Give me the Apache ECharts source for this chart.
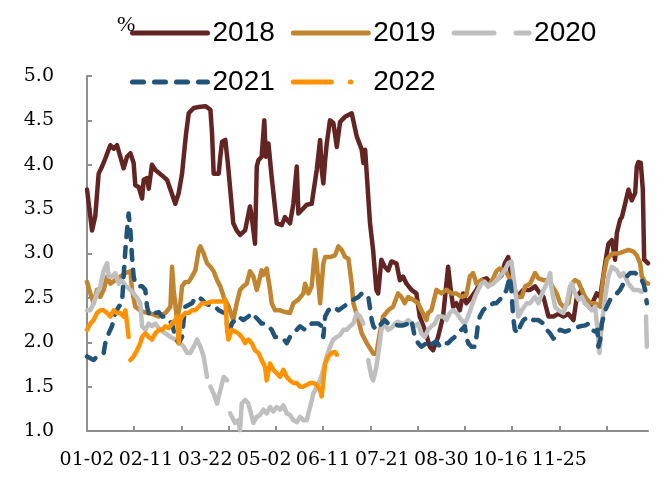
<!DOCTYPE html>
<html><head><meta charset="utf-8">
<script src="https://cdn.jsdelivr.net/npm/echarts@6/dist/echarts.min.js"></script>
<style>html,body{margin:0;padding:0;background:#fff}#c{width:667px;height:481px}</style>
</head><body><div id="c"></div>
<script>
// x = trading-day index from 01-02 (label every 40 days), y = %
const seriesNames = ['2018', '2019', '2020', '2021', '2022'];
const tickLabels = ['01-02', '02-11', '03-22', '05-02', '06-11', '07-21', '08-30', '10-16', '11-25'];
const yTicks = [1.0, 1.5, 2.0, 2.5, 3.0, 3.5, 4.0, 4.5, 5.0];

const d2018 = [[0,3.72],[3.4,3.26],[5.6,3.42],[7.9,3.90],[10.2,3.98],[12.4,4.07],[15.8,4.22],[18.1,4.18],[20.3,4.22],[22.6,4.09],[24.8,3.96],[27.1,4.09],[29.4,4.13],[31.6,4.02],[32.7,3.77],[35.0,3.75],[37.3,3.62],[38.4,3.83],[40.7,3.85],[41.8,3.73],[44.0,4.00],[46.3,3.94],[50.8,3.88],[54.2,3.83],[56.5,3.72],[59.8,3.56],[62.1,3.68],[64.4,3.90],[65.5,4.09],[67.1,4.35],[68.9,4.58],[72.3,4.64],[75.7,4.65],[80.2,4.66],[83.6,4.62],[84.7,4.35],[85.8,3.90],[89.2,3.90],[90.3,4.09],[91.5,4.26],[93.7,4.28],[95.5,4.00],[99.1,3.34],[101.4,3.26],[103.7,3.21],[107.1,3.26],[110.4,3.53],[111.6,3.41],[113.8,3.11],[115.0,3.98],[116.1,4.05],[118.3,4.09],[120.1,4.50],[121.1,4.09],[122.9,4.24],[125.1,3.86],[128.5,3.34],[131.9,3.32],[134.1,3.41],[137.5,3.34],[139.8,3.56],[142.1,3.98],[143.2,3.45],[146.6,3.51],[148.8,3.55],[152.2,3.56],[155.6,3.94],[157.9,4.28],[159.0,3.94],[160.1,3.79],[161.3,4.05],[162.4,4.24],[164.6,4.50],[166.9,4.47],[169.2,4.20],[171.4,4.48],[174.8,4.54],[179.3,4.58],[182.7,4.32],[186.1,4.17],[187.2,4.02],[188.4,4.17],[191.7,3.34],[193.8,3.04],[196.0,2.59],[197.2,2.55],[199.4,2.93],[201.7,2.85],[204.0,2.81],[206.2,2.91],[209.6,2.89],[211.9,2.70],[214.1,2.74],[216.4,2.66],[219.8,2.59],[223.1,2.55],[225.4,2.29],[228.8,2.14],[232.2,1.95],[234.4,1.91],[237.8,2.06],[241.2,2.29],[244.6,2.85],[246.4,2.59],[248.0,2.40],[250.2,2.44],[252.5,2.36],[254.8,2.55],[257.0,2.44],[260.4,2.51],[263.8,2.59],[267.2,2.70],[270.6,2.72],[274.0,2.66],[277.3,2.70],[280.7,2.75],[283.0,2.89],[285.3,2.96],[286.4,2.94],[287.5,2.74],[289.8,2.59],[291.1,2.51],[295.6,2.59],[300.1,2.59],[303.5,2.63],[306.9,2.55],[309.2,2.51],[312.6,2.29],[316.0,2.29],[319.3,2.32],[322.7,2.29],[326.1,2.32],[329.5,2.25],[331.8,2.51],[335.2,2.59],[337.4,2.44],[340.8,2.40],[343.1,2.47],[345.3,2.55],[347.6,2.51],[351.0,2.89],[353.2,3.11],[355.5,3.15],[357.7,2.93],[358.9,3.23],[361.1,3.38],[362.3,3.41],[364.5,3.56],[366.8,3.72],[369.0,3.60],[371.3,3.68],[372.4,3.98],[373.5,4.03],[375.1,4.02],[376.5,3.72],[377.4,2.93],[380,2.89]];

const d2019 = [[0,2.68],[2.3,2.55],[4.5,2.44],[6.8,2.59],[9.0,2.51],[11.3,2.59],[13.6,2.74],[15.8,2.66],[19.2,2.70],[22.6,2.74],[26.0,2.78],[29.4,2.80],[30.5,2.59],[32.7,2.40],[36.1,2.36],[38.4,2.34],[41.8,2.33],[45.2,2.31],[48.6,2.29],[53.1,2.33],[56.5,2.40],[57.6,2.85],[58.7,2.59],[61.0,2.25],[63.2,2.44],[64.4,2.63],[66.6,2.68],[68.9,2.68],[71.1,2.74],[73.4,2.81],[75.7,3.04],[76.8,3.08],[79.0,3.00],[81.3,2.89],[83.6,2.85],[85.8,2.80],[88.1,2.70],[90.3,2.63],[92.6,2.51],[96.0,2.40],[99.1,2.25],[101.4,2.44],[103.7,2.59],[105.9,2.63],[108.2,2.66],[110.4,2.80],[112.7,2.74],[115.0,2.59],[116.1,2.66],[118.3,2.81],[119.5,2.76],[121.7,2.83],[122.9,2.81],[124.0,2.59],[125.1,2.44],[127.4,2.36],[130.8,2.36],[134.1,2.34],[137.5,2.33],[139.8,2.44],[143.2,2.48],[146.6,2.55],[147.7,2.66],[150.0,2.55],[152.2,2.63],[154.5,3.04],[155.6,2.89],[157.9,2.44],[160.1,2.89],[161.3,2.96],[164.6,2.96],[168.0,2.98],[170.3,3.08],[172.5,3.04],[174.8,2.96],[177.1,2.94],[179.3,2.66],[180.4,2.44],[183.8,2.25],[186.1,2.10],[189.5,1.99],[194.0,1.87],[196.0,1.87],[198.3,2.10],[200.6,2.29],[204.0,2.36],[207.3,2.40],[210.7,2.55],[213.0,2.51],[215.2,2.44],[217.5,2.51],[220.9,2.48],[224.3,2.44],[226.5,2.36],[229.9,2.25],[231.0,2.33],[233.3,2.36],[236.7,2.59],[240.1,2.55],[243.5,2.59],[246.9,2.55],[250.2,2.55],[253.6,2.51],[257.0,2.53],[259.3,2.74],[261.5,2.78],[263.8,2.66],[267.2,2.70],[269.4,2.68],[271.7,2.63],[275.1,2.72],[277.3,2.80],[279.6,2.83],[283.0,2.81],[286.4,2.72],[289.8,2.59],[291.1,2.51],[294.5,2.51],[296.8,2.63],[300.1,2.66],[303.5,2.78],[305.8,2.72],[309.2,2.70],[312.6,2.70],[314.8,2.64],[318.2,2.55],[320.5,2.44],[322.7,2.40],[326.1,2.44],[328.4,2.66],[330.6,2.70],[332.9,2.68],[335.2,2.59],[337.4,2.51],[340.8,2.44],[344.2,2.44],[347.6,2.40],[349.8,2.74],[352.1,2.93],[354.4,2.98],[356.6,3.00],[360.0,3.00],[363.4,3.02],[366.8,3.04],[370.2,3.02],[372.4,2.98],[374.7,2.89],[375.8,2.74],[378.1,2.68],[380,2.66]];

const d2020 = [[0,2.36],[2.3,2.36],[4.5,2.44],[6.8,2.55],[9.0,2.63],[11.3,2.81],[13.6,2.89],[14.7,2.74],[16.9,2.74],[19.2,2.78],[21.5,2.66],[23.7,2.70],[26.0,2.64],[29.4,2.59],[31.6,2.55],[33.9,2.50],[36.1,2.44],[37.3,2.18],[39.5,2.14],[41.8,2.21],[44.0,2.18],[46.3,2.21],[49.7,2.14],[53.1,2.10],[56.5,2.06],[59.8,2.03],[63.2,1.99],[65.5,1.95],[67.8,1.88],[70.0,1.88],[72.3,1.95],[74.5,2.03],[76.8,1.95],[79.0,1.84],[81.3,1.61],[82.4,'-'],[83.6,1.50],[85.8,1.42],[88.1,1.31],[90.3,1.46],[92.6,1.61],[94.9,1.57],[95.9,'-'],[96.9,1.20],[100.3,1.09],[102.5,1.12],[103.7,1.01],[104.8,1.31],[107.1,1.35],[109.3,1.31],[110.4,1.24],[112.7,1.09],[115.0,1.16],[117.2,1.18],[119.5,1.24],[121.7,1.20],[124.0,1.27],[126.2,1.22],[128.5,1.27],[130.8,1.24],[133.0,1.29],[135.3,1.20],[137.5,1.18],[139.8,1.12],[142.1,1.10],[144.3,1.16],[146.6,1.12],[148.8,1.12],[151.1,1.27],[153.3,1.42],[155.6,1.50],[157.9,1.57],[160.1,1.69],[162.4,1.84],[164.6,1.95],[166.9,2.03],[169.2,2.06],[171.4,2.08],[173.7,2.14],[175.9,2.14],[178.2,2.18],[180.4,2.21],[182.7,2.33],[185.0,2.29],[187.2,2.21],[188.8,'-'],[190.5,1.80],[192.7,1.61],[193.8,1.57],[196.0,1.72],[198.3,1.99],[199.4,2.14],[201.7,2.21],[204.0,2.14],[206.2,2.16],[208.5,2.21],[210.7,2.23],[213.0,2.21],[215.2,2.21],[217.5,2.25],[219.8,2.21],[222.0,2.18],[224.3,2.21],[226.5,2.10],[228.8,2.06],[231.0,2.14],[233.3,2.18],[235.6,2.21],[237.8,2.29],[241.2,2.29],[243.5,2.25],[245.7,2.33],[248.0,2.36],[250.2,2.33],[253.6,2.25],[255.9,2.21],[258.2,2.29],[260.4,2.40],[262.7,2.51],[264.9,2.59],[267.2,2.66],[269.4,2.68],[271.7,2.63],[275.1,2.66],[277.3,2.70],[279.6,2.74],[283.0,2.81],[285.3,2.89],[287.5,2.91],[290.0,2.59],[292.2,2.29],[294.5,2.36],[297.9,2.44],[300.1,2.44],[303.5,2.51],[305.8,2.44],[309.2,2.59],[311.4,2.66],[313.7,2.78],[314.8,2.59],[317.1,2.40],[319.3,2.36],[322.7,2.33],[325.0,2.44],[327.2,2.63],[328.4,2.66],[330.6,2.55],[332.9,2.48],[335.2,2.51],[337.4,2.44],[339.7,2.40],[341.9,2.36],[344.2,2.40],[345.8,2.14],[347.1,1.88],[348.7,2.21],[351.0,2.51],[353.2,2.74],[355.5,2.85],[358.9,2.81],[361.1,2.74],[363.4,2.78],[366.8,2.66],[370.2,2.59],[373.5,2.59],[375.8,2.57],[376.9,2.59],[377.8,'-'],[378.7,2.29],[379.2,1.95]];

const d2021 = [[0,1.84],[2.3,1.82],[4.5,1.80],[6.8,1.84],[9.0,1.86],[11.3,1.88],[12.4,1.99],[14.7,2.10],[16.9,2.18],[19.2,2.33],[21.5,2.40],[23.7,2.44],[24.8,2.74],[26.0,3.04],[27.1,3.26],[28.2,3.45],[29.4,3.26],[30.5,2.96],[31.6,2.74],[32.7,2.66],[35.0,2.63],[37.3,2.63],[39.5,2.59],[40.7,2.40],[41.8,2.33],[44.0,2.29],[46.3,2.33],[48.6,2.34],[50.8,2.29],[53.1,2.29],[55.3,2.25],[57.6,2.21],[59.8,2.06],[62.1,1.99],[64.4,2.06],[65.5,2.25],[66.6,2.40],[68.9,2.42],[71.1,2.44],[73.4,2.50],[75.7,2.51],[77.9,2.48],[80.2,2.44],[82.4,2.42],[84.7,2.40],[86.9,2.40],[89.2,2.36],[91.5,2.34],[93.7,2.33],[96.0,2.06],[98.0,2.21],[100.3,2.25],[102.5,2.29],[105.9,2.25],[109.3,2.29],[111.6,2.33],[113.8,2.29],[116.1,2.25],[118.3,2.21],[120.6,2.21],[122.9,2.18],[125.1,2.14],[127.4,2.06],[129.6,2.06],[133.0,2.04],[135.3,1.99],[137.5,2.06],[139.8,2.10],[142.1,2.14],[144.3,2.18],[147.7,2.14],[150.0,2.18],[152.2,2.21],[154.5,2.21],[156.7,2.21],[159.0,2.18],[160.1,2.06],[161.3,2.29],[163.5,2.36],[166.9,2.40],[170.3,2.36],[173.7,2.40],[177.1,2.44],[180.4,2.48],[183.8,2.51],[186.1,2.55],[188.4,2.51],[190.6,2.51],[192.9,2.25],[194.0,2.18],[196.0,2.14],[199.4,2.21],[201.7,2.25],[204.0,2.21],[207.3,2.21],[210.7,2.19],[214.1,2.19],[217.5,2.21],[219.8,2.25],[222.0,2.06],[224.3,1.99],[226.5,1.95],[229.9,1.99],[232.2,1.95],[234.4,1.99],[236.7,2.01],[239.0,1.95],[241.2,1.99],[244.6,1.99],[246.9,2.03],[249.1,2.06],[251.4,2.10],[253.6,2.14],[255.9,2.18],[257.0,2.06],[258.2,1.99],[260.4,1.95],[262.7,1.95],[263.8,2.06],[264.9,2.21],[266.1,2.29],[268.3,2.36],[270.6,2.40],[272.8,2.40],[275.1,2.44],[277.3,2.44],[279.6,2.48],[281.9,2.51],[284.1,2.59],[286.4,2.74],[287.5,2.59],[288.6,2.29],[289.8,2.14],[292.0,2.10],[293.4,2.18],[295.6,2.25],[299.0,2.29],[302.4,2.25],[305.8,2.25],[309.2,2.21],[311.4,2.14],[313.7,2.10],[316.0,2.04],[318.2,2.10],[320.5,2.14],[323.9,2.12],[327.2,2.14],[330.6,2.16],[334.0,2.18],[337.4,2.19],[339.7,2.21],[341.9,2.14],[344.2,2.12],[345.8,2.14],[346.4,1.95],[347.6,2.03],[348.7,2.21],[351.0,2.36],[352.1,2.40],[354.4,2.48],[356.6,2.51],[358.9,2.55],[361.1,2.59],[363.4,2.66],[365.6,2.74],[367.9,2.78],[371.3,2.78],[374.7,2.74],[376.9,2.66],[378.1,2.59],[379.2,2.44]];

const d2022 = [[0,2.14],[2.3,2.21],[4.5,2.25],[6.8,2.33],[9.0,2.36],[11.3,2.36],[13.6,2.33],[15.8,2.29],[18.1,2.36],[20.3,2.33],[22.6,2.33],[24.8,2.29],[26.0,2.36],[28.2,2.06],[28.8,'-'],[29.4,1.80],[31.6,1.84],[33.9,1.91],[36.1,1.99],[37.3,2.06],[39.5,2.10],[41.8,2.06],[44.0,2.03],[46.3,2.10],[48.6,2.14],[50.8,2.14],[53.1,2.18],[55.3,2.16],[57.6,2.21],[59.8,2.25],[61.0,2.29],[62.1,1.99],[63.2,2.25],[64.4,2.29],[66.6,2.33],[68.9,2.33],[71.1,2.36],[73.4,2.36],[75.7,2.40],[77.9,2.44],[81.3,2.44],[84.7,2.46],[88.1,2.46],[91.5,2.46],[93.7,2.48],[94.9,2.14],[95.8,2.03],[98.0,2.14],[100.3,2.12],[102.5,2.10],[104.8,2.06],[107.1,1.99],[109.3,2.03],[111.6,1.99],[113.8,1.91],[116.1,1.88],[118.3,1.80],[120.6,1.72],[121.7,1.57],[124.0,1.76],[126.2,1.69],[128.5,1.65],[130.8,1.61],[133.0,1.69],[135.3,1.61],[137.5,1.57],[139.8,1.54],[142.1,1.54],[144.3,1.50],[146.6,1.50],[148.8,1.52],[151.1,1.54],[153.3,1.54],[155.6,1.52],[157.9,1.46],[159.0,1.39],[160.1,1.57],[161.3,1.76],[163.5,1.84],[165.8,1.88],[168.0,1.89],[169.2,1.86]];

const seriesData = [d2018, d2019, d2020, d2021, d2022];
const colors = ['#632523', '#C1852F', '#BFBFBF', '#225379', '#FF9200'];

const labelStep = 40, tickStep = 32, dayMax = 380;
const labelPos = tickLabels.map((_, i) => i * labelStep);
const tickPos = [];
for (let v = 0; v < dayMax; v += tickStep) tickPos.push(v);

const plotDash = ['solid', 'solid', 'solid', [10, 10], 'solid'];
const legendDash = ['solid', 'solid', [40, 22], [11, 11], [38, 19, 0.5, 19]];

const chart = echarts.init(document.getElementById('c'), null, { renderer: 'canvas' });

const series = seriesNames.map((name, i) => ({
  name, type: 'line', data: seriesData[i], symbol: 'none', showSymbol: false,
  connectNulls: false, animation: false, z: 2 + i,
  itemStyle: { color: colors[i] },
  lineStyle: { color: colors[i], width: 4.5, type: plotDash[i], cap: 'round', join: 'round' },
  emphasis: { disabled: true }
}));

function legendItem(i) {
  return {
    name: seriesNames[i],
    itemStyle: { opacity: 0 },
    lineStyle: { color: colors[i], width: 5, type: legendDash[i], cap: 'round', opacity: 1 }
  };
}
const legendCommon = {
  orient: 'horizontal', itemWidth: 75, itemHeight: 14, itemGap: 16, padding: 0,
  selectedMode: false,
  textStyle: { fontFamily: 'Liberation Sans, Arial, sans-serif', fontSize: 28, color: '#000' }
};

chart.setOption({
  backgroundColor: '#fff',
  animation: false,
  title: { text: '%', left: 112, top: 9, textStyle: { fontFamily: 'Liberation Serif, serif', fontSize: 22, fontWeight: 'normal', color: '#000' } },
  legend: [
    Object.assign({ left: 130, top: 19, data: [0, 1, 2].map(legendItem) }, legendCommon),
    Object.assign({ left: 130, top: 68, data: [3, 4].map(legendItem) }, legendCommon)
  ],
  grid: { left: 87, right: 19, top: 76, bottom: 50, containLabel: false },
  xAxis: {
    type: 'value', min: 0, max: dayMax,
    axisLine: { show: true, lineStyle: { color: '#8E8E8E', width: 2 } },
    axisTick: { show: true, inside: true, length: 5, customValues: tickPos, lineStyle: { color: '#8E8E8E', width: 2 } },
    axisLabel: {
      customValues: labelPos, margin: 20,
      formatter: v => tickLabels[Math.round(v / labelStep)] || '',
      fontFamily: 'DejaVu Serif, serif', fontSize: 19, color: '#000'
    },
    splitLine: { show: false }
  },
  yAxis: {
    type: 'value', min: yTicks[0], max: yTicks[yTicks.length - 1], interval: 0.5,
    axisLine: { show: true, lineStyle: { color: '#8E8E8E', width: 2 } },
    axisTick: { show: true, inside: true, length: 5, lineStyle: { color: '#8E8E8E', width: 2 } },
    axisLabel: { margin: 33, formatter: v => v.toFixed(1), fontFamily: 'DejaVu Serif, serif', fontSize: 19, color: '#000' },
    splitLine: { show: false }
  },
  series
});
</script></body></html>
